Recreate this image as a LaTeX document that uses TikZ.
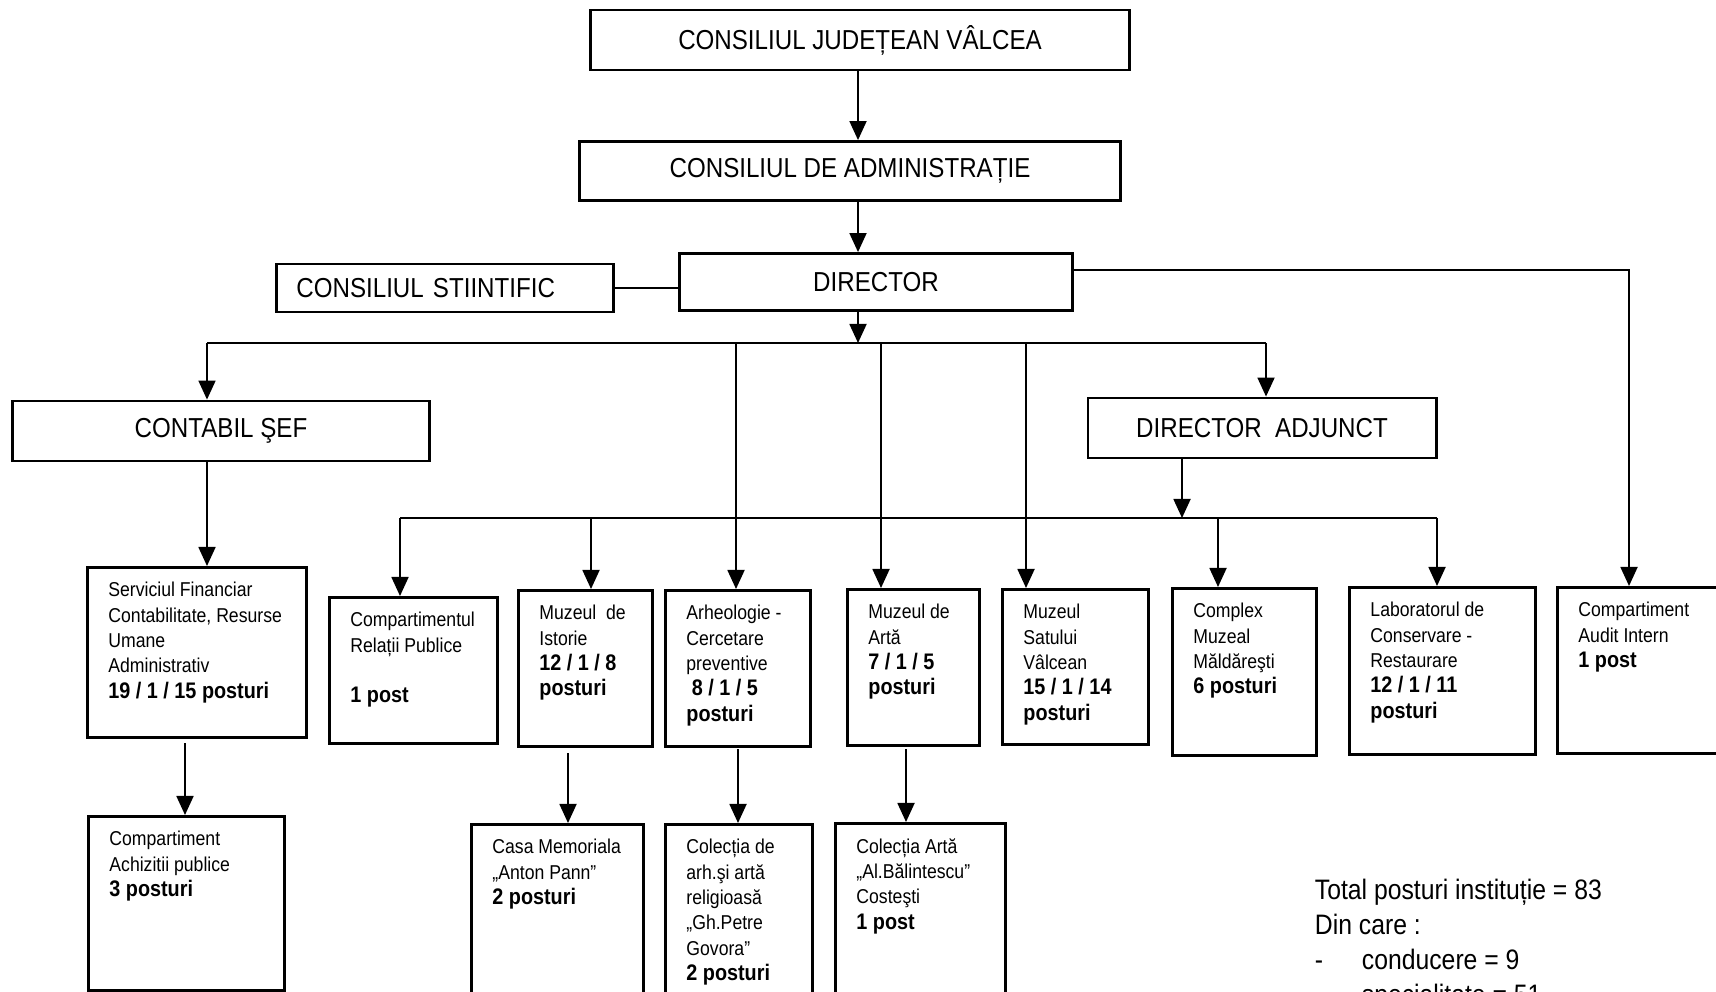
\documentclass[tikz,border=0pt]{standalone}
\usepackage{fontspec}
\setmainfont{Liberation Sans}[FakeStretch=0.88]
\usepackage{tikz}
\usetikzlibrary{arrows.meta}
\newcommand\unitfont{\fontsize{5.7}{7.2}\selectfont}
\newcommand\postsfont{\fontsize{6.4}{7.2}\selectfont\bfseries}

\begin{document}
\begin{tikzpicture}[x=0.01cm, y=-0.01cm, >={Triangle[length=1.9mm,width=1.7mm]}, line width=0.5pt,
  head/.style={draw, line width=0.8pt, font=\fontsize{7.8}{9}\selectfont},
  unit/.style 2 args={draw, line width=0.8pt, anchor=north west, inner xsep=0.15cm, inner ysep=0.15cm,
    execute at begin node={\begin{minipage}[t][\dimexpr#2cm-0.3cm\relax][t]{\dimexpr#1cm-0.3cm\relax}%
      \unitfont\raggedright\leftskip=0.06cm\hyphenpenalty=10000},
    execute at end node={\end{minipage}}}]
  \path[use as bounding box] (0,0) rectangle (1716,992);
  \clip (0,0) rectangle (1716,992);

  \node[head, minimum width=5.39cm, minimum height=0.6cm] (cjv) at (860,40) {CONSILIUL JUDEȚEAN VÂLCEA};
  \node[head, minimum width=5.40cm, minimum height=0.59cm] (cda) at (850,171) {CONSILIUL DE ADMINISTRAȚIE};
  \node[head, minimum width=3.92cm, minimum height=0.57cm] (dir) at (876,282) {DIRECTOR};
  \node[head, text width=2.97cm, inner xsep=0.2cm, align=left, minimum height=0.48cm] (cst) at (445,288) {CONSILIUL STIINTIFIC};
  \node[head, minimum width=4.17cm, minimum height=0.60cm] (sef) at (221,431) {CONTABIL ŞEF};
  \node[head, minimum width=3.48cm, minimum height=0.60cm] (adj) at (1262,428) {DIRECTOR\ \ ADJUNCT};

  \node[unit={2.19}{1.70}] (serv) at (86,566) {Serviciul Financiar\\ Contabilitate, Resurse\\ Umane\\ Administrativ\\ {\postsfont 19 / 1 / 15 posturi}};
  \node[unit={1.68}{1.46}] (rel) at (328,596) {Compartimentul\\ Relații Publice\\[7.2pt] {\postsfont 1 post}};
  \node[unit={1.34}{1.56}] (ist) at (517,589) {Muzeul\ \ de\\ Istorie\\ {\postsfont 12 / 1 / 8}\\ {\postsfont posturi}};
  \node[unit={1.45}{1.56}] (arh) at (664,589) {Arheologie -\\ Cercetare\\ preventive\\ {\postsfont\ 8 / 1 / 5}\\ {\postsfont posturi}};
  \node[unit={1.32}{1.56}] (arta) at (846,588) {Muzeul de\\ Artă\\ {\postsfont 7 / 1 / 5}\\ {\postsfont posturi}};
  \node[unit={1.46}{1.55}] (sat) at (1001,588) {Muzeul\\ Satului\\ Vâlcean\\ {\postsfont 15 / 1 / 14}\\ {\postsfont posturi}};
  \node[unit={1.44}{1.67}] (compl) at (1171,587) {Complex\\ Muzeal\\ Măldăreşti\\ {\postsfont 6 posturi}};
  \node[unit={1.86}{1.67}] (lab) at (1348,586) {Laboratorul de\\ Conservare -\\ Restaurare\\ {\postsfont 12 / 1 / 11}\\ {\postsfont posturi}};
  \node[unit={1.80}{1.66}] (audit) at (1556,586) {Compartiment\\ Audit Intern\\ {\postsfont 1 post}};

  \node[unit={1.96}{1.74}] (achiz) at (87,815) {Compartiment\\ Achizitii publice\\ {\postsfont 3 posturi}};
  \node[unit={1.72}{2.00}] (casa) at (470,823) {Casa Memoriala\\ „Anton Pann”\\ {\postsfont 2 posturi}};
  \node[unit={1.47}{2.00}] (colarh) at (664,823) {Colecția de\\ arh.şi artă\\ religioasă\\ „Gh.Petre\\ Govora”\\ {\postsfont 2 posturi}};
  \node[unit={1.70}{2.00}] (colarta) at (834,822) {Colecția Artă\\ „Al.Bălintescu”\\ Costeşti\\ {\postsfont 1 post}};

  \node[anchor=north west, inner sep=0pt, align=left, font=\fontsize{8}{9.96}\selectfont] (total) at (1314,878)
    {Total posturi instituție = 83\\ Din care :\\ \makebox[0.47cm][l]{-}conducere = 9\\ \makebox[0.47cm][l]{-}specialitate = 51};

  \coordinate (bd) at (858,343);
  \coordinate (b1) at (207,343);
  \coordinate (b2) at (736,343);
  \coordinate (b3) at (881,343);
  \coordinate (b4) at (1026,343);
  \coordinate (b5) at (1266,343);
  \coordinate (c1) at (400,518);
  \coordinate (c2) at (591,518);
  \coordinate (c3) at (1182,518);
  \coordinate (c4) at (1218,518);
  \coordinate (c5) at (1437,518);
  \coordinate (ai) at (1629,270);
  \coordinate (d1) at (185,743);
  \coordinate (d2) at (568,753);
  \coordinate (d3) at (738,749);
  \coordinate (d4) at (906,749);

  \draw[->] (cjv.south -| bd) -- (cda.north -| bd);
  \draw[->] (cda.south -| bd) -- (dir.north -| bd);
  \draw[->] (dir.south -| bd) -- (bd);
  \draw (b1) -- (b5);
  \draw[->] (b1) -- (b1 |- sef.north);
  \draw[->] (b2) -- (b2 |- arh.north);
  \draw[->] (b3) -- (b3 |- arta.north);
  \draw[->] (b4) -- (b4 |- sat.north);
  \draw[->] (b5) -- (b5 |- adj.north);
  \draw (cst.east) -- (cst.east -| dir.west);
  \draw[->] (dir.east |- ai) -- (ai) -- (ai |- audit.north);
  \draw[->] (sef.south -| b1) -- (b1 |- serv.north);
  \draw[->] (adj.south -| c3) -- (c3);
  \draw (c1) -- (c5);
  \draw[->] (c1) -- (c1 |- rel.north);
  \draw[->] (c2) -- (c2 |- ist.north);
  \draw[->] (c4) -- (c4 |- compl.north);
  \draw[->] (c5) -- (c5 |- lab.north);
  \draw[->] (d1) -- (d1 |- achiz.north);
  \draw[->] (d2) -- (d2 |- casa.north);
  \draw[->] (d3) -- (d3 |- colarh.north);
  \draw[->] (d4) -- (d4 |- colarta.north);
\end{tikzpicture}
\end{document}
